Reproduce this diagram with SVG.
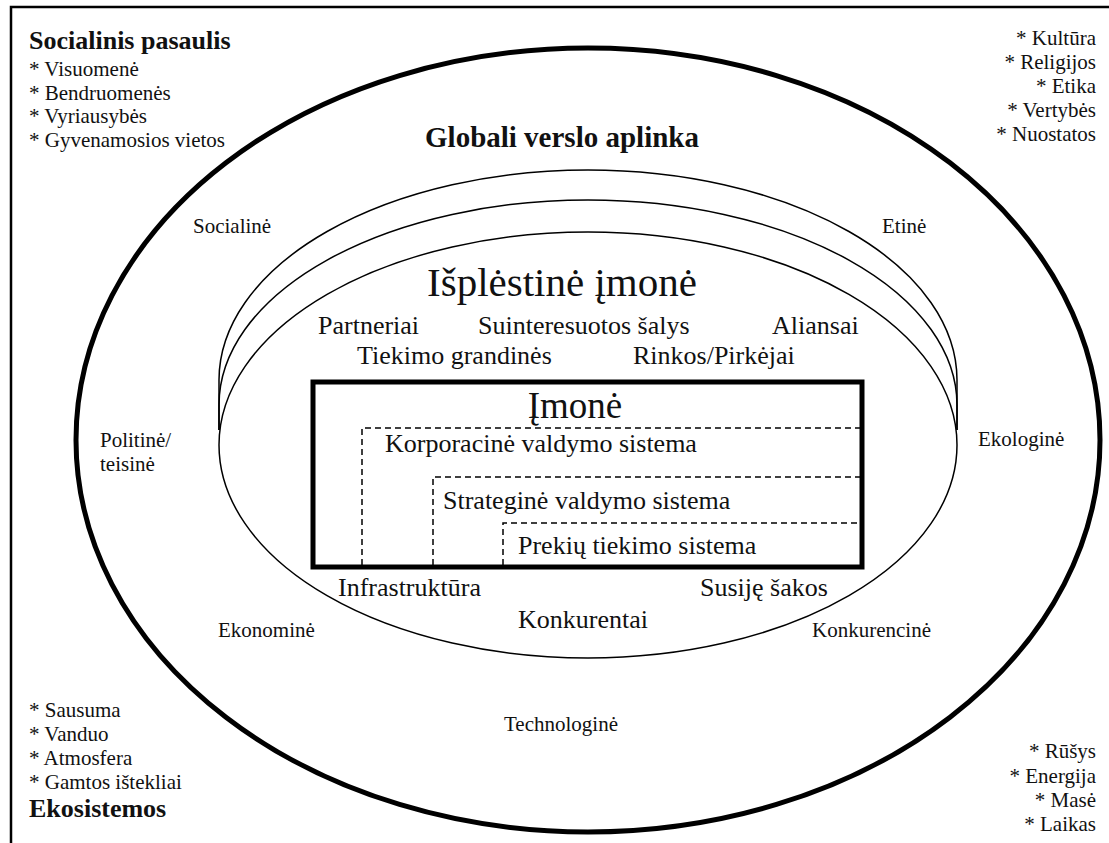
<svg xmlns="http://www.w3.org/2000/svg" width="1109" height="843" viewBox="0 0 1109 843" font-family="'Liberation Serif', Tinos, 'DejaVu Serif', serif">
  <style>
    text { font-family: "Liberation Serif", Tinos, "DejaVu Serif", serif; fill: #111; }
    .title { font-weight: bold; font-size: 26px; }
    .item { font-size: 21px; }
    .ring { font-size: 21px; }
    .mid { font-size: 26px; }
    .end { text-anchor: end; }
    .mdl { text-anchor: middle; }
    .thick { fill: none; stroke: #000; stroke-width: 5; }
    .thin { fill: none; stroke: #000; stroke-width: 1.5; }
    .dash { fill: none; stroke: #000; stroke-width: 1.5; stroke-dasharray: 6 4; }
  </style>

  <rect x="0" y="0" width="1109" height="843" fill="#fff"/>

  <!-- page frame (top and left rules) -->
  <g id="frame">
    <path d="M11,843 V7 H1109" fill="none" stroke="#000" stroke-width="2.5"/>
  </g>

  <!-- corner boxes: social world and ecosystems -->
  <g id="social-world">
    <text class="title" x="29" y="49">Socialinis pasaulis</text>
    <text class="item" x="29" y="76">* Visuomenė</text>
    <text class="item" x="29" y="100">* Bendruomenės</text>
    <text class="item" x="29" y="123">* Vyriausybės</text>
    <text class="item" x="29" y="147">* Gyvenamosios vietos</text>
  </g>
  <g id="culture">
    <text class="item end" x="1096" y="45">* Kultūra</text>
    <text class="item end" x="1096" y="69">* Religijos</text>
    <text class="item end" x="1096" y="93">* Etika</text>
    <text class="item end" x="1096" y="117">* Vertybės</text>
    <text class="item end" x="1096" y="141">* Nuostatos</text>
  </g>
  <g id="ecosystems">
    <text class="item" x="29" y="717">* Sausuma</text>
    <text class="item" x="29" y="741">* Vanduo</text>
    <text class="item" x="29" y="765">* Atmosfera</text>
    <text class="item" x="29" y="789">* Gamtos ištekliai</text>
    <text class="title" x="29" y="817">Ekosistemos</text>
  </g>
  <g id="nature">
    <text class="item end" x="1096" y="758">* Rūšys</text>
    <text class="item end" x="1096" y="783">* Energija</text>
    <text class="item end" x="1096" y="807">* Masė</text>
    <text class="item end" x="1096" y="831">* Laikas</text>
  </g>

  <!-- global business environment -->
  <g id="global-environment">
    <ellipse class="thick" cx="588" cy="440" rx="512" ry="392"/>
    <text class="mdl" x="562" y="147" style="font-weight:bold;font-size:29px">Globali verslo aplinka</text>
    <text class="ring" x="193" y="233">Socialinė</text>
    <text class="ring" x="882" y="233">Etinė</text>
    <text class="ring" x="100" y="447">Politinė/</text>
    <text class="ring" x="100" y="471">teisinė</text>
    <text class="ring" x="978" y="446">Ekologinė</text>
    <text class="ring" x="218" y="637">Ekonominė</text>
    <text class="ring" x="812" y="637">Konkurencinė</text>
    <text class="ring mdl" x="561" y="731">Technologinė</text>
  </g>

  <!-- extended enterprise: stacked layers -->
  <g id="extended-enterprise">
    <path class="thin" d="M219,430 V380 A369,210 0 0 1 957,380 V430"/>
    <path class="thin" d="M219,430 V405 A369,205 0 0 1 957,405 V430"/>
    <ellipse class="thin" cx="588" cy="445" rx="369" ry="213"/>
    <text class="mdl" x="562" y="296" style="font-size:41px">Išplėstinė įmonė</text>
    <text class="mid" x="318" y="334">Partneriai</text>
    <text class="mid" x="478" y="334">Suinteresuotos šalys</text>
    <text class="mid" x="772" y="334">Aliansai</text>
    <text class="mid" x="357" y="364">Tiekimo grandinės</text>
    <text class="mid" x="633" y="364">Rinkos/Pirkėjai</text>
    <text class="mid" x="338" y="596">Infrastruktūra</text>
    <text class="mid" x="700" y="596">Susiję šakos</text>
    <text class="mid" x="518" y="628">Konkurentai</text>
  </g>

  <!-- the enterprise and its nested management systems -->
  <g id="enterprise">
    <rect class="thick" x="313" y="382" width="549" height="185"/>
    <text class="mdl" x="575" y="418" style="font-size:37px">Įmonė</text>
  </g>
  <g id="corporate-system">
    <text class="mid" x="385" y="452">Korporacinė valdymo sistema</text>
  </g>
  <g id="strategic-system">
    <text class="mid" x="443" y="509">Strateginė valdymo sistema</text>
  </g>
  <g id="supply-system">
    <text class="mid" x="518" y="554">Prekių tiekimo sistema</text>
  </g>

  <!-- dashed boundaries of the nested systems -->
  <g id="connectors">
    <path class="dash" d="M362,565 V428 H860"/>
    <path class="dash" d="M433,565 V477 H860"/>
    <path class="dash" d="M503,565 V523 H860"/>
  </g>
</svg>
